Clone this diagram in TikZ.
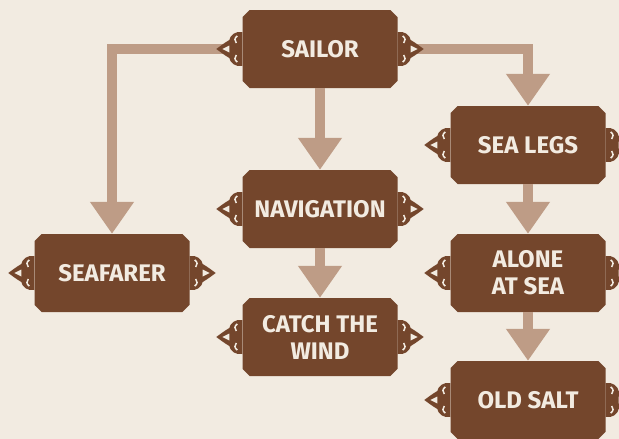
\documentclass[tikz,border=0pt]{standalone}
\usepackage{fontspec}
\setmainfont{Fira Sans}
\usetikzlibrary{arrows.meta,shapes.misc}
\definecolor{parchment}{HTML}{F2EBE1}
\definecolor{plaquebrown}{HTML}{74462C}
\definecolor{ropetan}{HTML}{BE9C86}

\tikzset{
  plaque/.style={chamfered rectangle, chamfered rectangle xsep=3.5pt,
    fill=plaquebrown, text=parchment, align=center, inner sep=0pt,
    minimum width=155pt, minimum height=78pt,
    font=\fontsize{24}{27}\selectfont\bfseries},
  rope/.style={draw=ropetan, line width=10pt,
    -{Triangle[length=32pt 0,width=42pt 0]}},
  knot/.pic={
    \fill[plaquebrown] (0,-17) .. controls (-7,-18) and (-12,-14) .. (-13,-9)
      .. controls (-18,-6) and (-22,-3) .. (-26,0)
      .. controls (-22,3) and (-18,6) .. (-13,9)
      .. controls (-12,14) and (-7,18) .. (0,17) -- cycle;
    \fill[parchment] (-20,0) -- (-13,-3.5) -- (-13,3.5) -- cycle;
    \draw[parchment,line width=1.5pt] (-5,-13) .. controls (-8,-11) and (-8,-8) .. (-6,-6);
    \draw[parchment,line width=1.5pt] (-5,13) .. controls (-8,11) and (-8,8) .. (-6,6);
  }
}

\begin{document}
\begin{tikzpicture}[x=1pt,y=-1pt]
% parchment
\fill[parchment] (0,0) rectangle (619,439);
\useasboundingbox (0,0) rectangle (619,439);
\clip (0,0) rectangle (619,439);
% plaques
\node[plaque] (sailor)   at (320,49)  {SAILOR};
\node[plaque] (nav)      at (320,209) {NAVIGATION};
\node[plaque] (catch)    at (320,337) {CATCH THE\\WIND};
\node[plaque] (seafarer) at (112,273) {SEAFARER};
\node[plaque] (sealegs)  at (528,145) {SEA LEGS};
\node[plaque] (alone)    at (528,273) {ALONE\\AT SEA};
\node[plaque] (oldsalt)  at (528,400) {OLD SALT};
% ropes
\draw[rope] ([xshift=-10pt]sailor.west) -| (seafarer.north);
\draw[rope] ([xshift=10pt]sailor.east) -| (sealegs.north);
\draw[rope] (sailor.south) -- (nav.north);
\draw[rope] (nav.south) -- (catch.north);
\draw[rope] (sealegs.south) -- (alone.north);
\draw[rope] (alone.south) -- (oldsalt.north);
% knots on both sides
\foreach \n in {sailor,nav,catch,seafarer,sealegs,alone,oldsalt}{
  \pic at (\n.west) {knot};
  \pic[xscale=-1] at (\n.east) {knot};
}
\end{tikzpicture}
\end{document}
